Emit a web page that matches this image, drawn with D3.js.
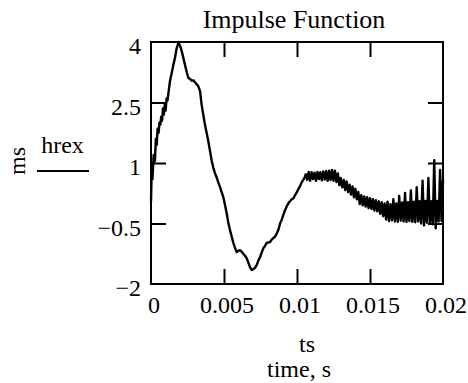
<!DOCTYPE html>
<html><head><meta charset="utf-8">
<script src="https://cdn.jsdelivr.net/npm/d3@7"></script>
<style>body{margin:0;background:#fff}</style>
</head><body>
<svg id="c" width="468" height="383"></svg>
<script>
const xTicks = [0, 0.005, 0.01, 0.015, 0.02];
const xTickLabels = ["0", "0.005", "0.01", "0.015", "0.02"];
const yTicks = [4, 2.5, 1, -0.5, -2];
const yTickLabels = ["4", "2.5", "1", "\u22120.5", "\u22122"];

const ts = [
0.00000,0.00005,0.00010,0.00018,0.00027,0.00033,0.00039,0.00045,0.00052,0.00058,
0.00064,0.00070,0.00076,0.00082,0.00088,0.00094,0.00100,0.00107,0.00113,0.00120,
0.00130,0.00140,0.00153,0.00165,0.00176,0.00188,0.00200,0.00210,0.00222,0.00233,
0.00245,0.00256,0.00268,0.00279,0.00290,0.00301,0.00313,0.00324,0.00336,0.00347,
0.00358,0.00370,0.00381,0.00392,0.00404,0.00416,0.00427,0.00438,0.00450,0.00461,
0.00473,0.00484,0.00495,0.00507,0.00518,0.00530,0.00541,0.00553,0.00564,0.00576,
0.00587,0.00598,0.00610,0.00621,0.00632,0.00644,0.00655,0.00667,0.00678,0.00690,
0.00701,0.00712,0.00724,0.00735,0.00747,0.00758,0.00770,0.00781,0.00792,0.00804,
0.00815,0.00827,0.00838,0.00849,0.00861,0.00872,0.00884,0.00895,0.00907,0.00918,
0.00930,0.00941,0.00952,0.00964,0.00975,0.00986,0.00998,0.01009,0.01020,0.01032,
0.01043,0.01055,
0.0106,0.0107,0.0108,0.0109,0.0110,0.0111,0.0112,0.0113,0.0114,0.0115,
0.0116,0.0117,0.0118,0.0119,0.0120,0.0121,0.0122,0.0123,0.0124,0.0125,
0.0126,0.0127,0.0128,0.0129,0.0130,0.0131,0.0132,0.0133,0.0134,0.0135,
0.0136,0.0137,0.0138,0.0139,0.0140,0.0141,0.0142,0.0143,0.0144,0.0145,
0.0146,0.0147,0.0148,0.0149,0.0150,0.0151,0.0152,0.0153,0.0154,0.0155,
0.0156,0.0157,0.0158,0.0159,0.0160,0.0161,0.0162,0.0163,0.0164,0.0165,
0.0166,0.0167,0.0168,0.0169,0.0170,0.0171,0.0172,0.0173,0.0174,0.0175,
0.0176,0.0177,0.0178,0.0179,0.0180,0.0181,0.0182,0.0183,0.0184,0.0185,
0.0186,0.0187,0.0188,0.0189,0.0190,0.0191,0.0192,0.0193,0.0194,0.0195,
0.0196,0.0197,0.0198,0.0199,0.0200
];
const hrex = [
0.05,0.85,0.60,1.20,1.05,1.60,1.45,1.85,1.75,2.00,
1.95,2.15,2.05,2.35,2.20,2.45,2.30,2.60,2.55,2.75,
3.03,3.20,3.43,3.62,3.85,3.98,3.90,3.78,3.60,3.43,
3.25,3.11,3.08,3.04,3.05,3.00,2.95,2.90,2.78,2.44,
2.20,1.94,1.75,1.55,1.30,1.05,0.88,0.75,0.64,0.52,
0.40,0.28,0.16,-0.04,-0.24,-0.49,-0.66,-0.83,-0.98,-1.11,
-1.21,-1.18,-1.16,-1.20,-1.25,-1.30,-1.36,-1.47,-1.58,-1.65,
-1.63,-1.60,-1.53,-1.42,-1.33,-1.22,-1.11,-1.06,-0.98,-0.97,
-0.96,-0.90,-0.86,-0.83,-0.75,-0.66,-0.50,-0.41,-0.28,-0.17,
-0.07,0.00,0.05,0.10,0.12,0.20,0.27,0.35,0.42,0.52,
0.58,0.66,
0.72,0.58,0.78,0.56,0.77,0.60,0.76,0.56,0.78,0.60,
0.77,0.57,0.79,0.59,0.80,0.56,0.81,0.58,0.83,0.56,
0.81,0.53,0.74,0.45,0.63,0.40,0.58,0.33,0.54,0.28,
0.46,0.22,0.42,0.15,0.36,0.10,0.28,-0.02,0.20,-0.05,
0.17,-0.08,0.15,-0.12,0.13,-0.14,0.10,-0.18,0.08,-0.20,
0.05,-0.26,0.03,-0.32,0.00,-0.40,0.04,-0.44,-0.02,-0.42,
0.10,-0.45,0.00,-0.46,0.18,-0.43,0.02,-0.45,0.26,-0.46,
0.03,-0.44,0.32,-0.46,0.04,-0.47,0.40,-0.45,0.05,-0.50,
0.56,-0.55,0.06,-0.48,0.63,-0.50,0.05,-0.52,1.07,-0.62,
0.06,-0.45,0.83,-0.44,0.58
];

const svg = d3.select("#c");
const L = 151, R = 443, T = 42, B = 284;
const x = d3.scaleLinear().domain([0, 0.02]).range([L, R]);
const y = d3.scaleLinear().domain([-2, 4]).range([B, T]);
const F = "Liberation Serif";

svg.append("text").attr("x", 294).attr("y", 28).attr("font-size", 26)
  .attr("text-anchor", "middle").style("font-family", F).text("Impulse Function");
svg.append("g").selectAll("text").data(xTicks).join("text")
  .attr("x", d => x(d) + 3).attr("y", 313).attr("font-size", 24)
  .attr("text-anchor", "middle").style("font-family", F).text((d, i) => xTickLabels[i]);
svg.append("g").selectAll("text").data(yTicks).join("text")
  .attr("x", 141).attr("y", d => y(d) + 12).attr("font-size", 24)
  .attr("text-anchor", "end").style("font-family", F).text((d, i) => yTickLabels[i]);
svg.append("text").attr("x", 307).attr("y", 352).attr("font-size", 24)
  .attr("text-anchor", "middle").style("font-family", F).text("ts");
svg.append("text").attr("x", 299).attr("y", 377).attr("font-size", 24)
  .attr("text-anchor", "middle").style("font-family", F).text("time, s");
svg.append("text").attr("transform", "translate(25,161) rotate(-90)").attr("font-size", 24)
  .attr("text-anchor", "middle").style("font-family", F).text("ms");
svg.append("text").attr("x", 62.5).attr("y", 153).attr("font-size", 24)
  .attr("text-anchor", "middle").style("font-family", F).text("hrex");
svg.append("line").attr("x1", 37).attr("x2", 89).attr("y1", 171).attr("y2", 171)
  .attr("stroke", "#000").attr("stroke-width", 2);

const data = ts.map((t, i) => [t, hrex[i]]);
svg.append("path").datum(data)
  .attr("fill", "none").attr("stroke", "#000").attr("stroke-width", 2.4)
  .attr("stroke-linejoin", "round")
  .attr("d", d3.line().x(d => x(d[0])).y(d => y(d[1])));

const inner = [0.005, 0.01, 0.015];
const innerY = [2.5, 1, -0.5];
function styleAx(g){ g.select(".domain").remove(); g.selectAll("line").attr("stroke","#000").attr("stroke-width",2); }
svg.append("g").attr("transform", `translate(0,${B})`)
  .call(d3.axisBottom(x).tickValues(inner).tickSize(-15).tickFormat("")).call(styleAx);
svg.append("g").attr("transform", `translate(0,${T})`)
  .call(d3.axisTop(x).tickValues(inner).tickSize(-15).tickFormat("")).call(styleAx);
svg.append("g").attr("transform", `translate(${L},0)`)
  .call(d3.axisLeft(y).tickValues(innerY).tickSize(-15).tickFormat("")).call(styleAx);
svg.append("g").attr("transform", `translate(${R},0)`)
  .call(d3.axisRight(y).tickValues(innerY).tickSize(-15).tickFormat("")).call(styleAx);

svg.append("rect").attr("x", L).attr("y", T).attr("width", R - L).attr("height", B - T)
  .attr("fill", "none").attr("stroke", "#000").attr("stroke-width", 2);
</script>
</body></html>
